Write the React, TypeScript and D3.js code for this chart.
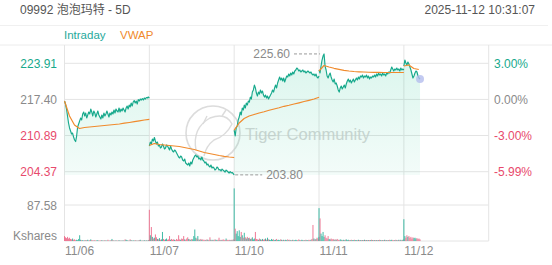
import React from "react";
import * as d3 from "d3";

const title = "09992 泡泡玛特 - 5D";
const timestamp = "2025-11-12  10:31:07";
const dayLabels = ["11/06", "11/07", "11/10", "11/11", "11/12"];
const priceTicks = [223.91, 217.4, 210.89, 204.37];
const priceTickLabels = ["223.91", "217.40", "210.89", "204.37"];
const pctTickLabels = ["3.00%", "0.00%", "-3.00%", "-5.99%"];
const volTick = 87.58;
const volTickLabel = "87.58";
const highValue = 225.6;
const lowValue = 203.8;

const day1Price = [217.11,216.57,215.67,214.41,213.15,212.25,211.70,211.16,211.34,210.62,
210.08,209.81,210.80,212.43,212.97,213.51,214.05,213.69,214.77,215.13,
214.41,214.95,214.05,214.59,215.13,214.77,215.67,215.13,214.41,215.31,
214.95,214.23,214.77,215.31,214.59,214.23,213.87,214.59,214.05,214.95,
214.41,214.77,215.31,214.77,214.23,214.95,214.59,215.13,214.77,215.49,
214.95,215.67,215.31,215.13,215.85,215.13,215.67,215.31,215.85,215.49,
215.13,215.85,216.21,215.67,216.39,216.03,216.75,216.21,216.93,217.20,
216.75,217.11,216.57,217.38,217.11,217.47,217.29,217.56,217.29,217.65,
217.47,217.74,217.65,217.83,217.65];
const day2Price = [209.00,209.72,209.36,210.26,209.90,210.53,209.90,209.36,209.72,209.00,
209.18,208.64,208.82,209.36,209.00,208.46,208.64,209.18,209.00,208.64,
208.28,209.00,208.46,208.10,207.92,208.28,208.10,207.74,207.38,207.02,
206.84,207.20,207.02,206.48,206.30,206.66,205.94,205.76,205.58,205.94,
205.40,206.12,205.76,206.48,206.84,207.20,207.38,207.02,207.20,206.66,
206.84,206.48,207.02,206.48,206.30,205.94,206.12,205.58,205.76,205.40,
205.22,205.58,205.04,205.22,205.04,204.67,204.85,205.22,205.04,204.67,
204.76,204.49,204.85,204.67,204.49,204.31,204.67,204.49,204.31,204.13,
204.40,204.13,204.22,204.04,203.80];
const day3Price = [211.88,210.80,212.25,212.61,213.69,214.23,215.13,214.59,215.85,215.49,
216.39,215.85,216.75,216.39,217.11,216.93,217.83,217.47,218.73,219.10,
220.00,219.46,218.55,218.01,218.73,218.37,219.10,218.55,218.92,218.19,
217.83,218.19,217.65,218.01,217.47,217.83,218.19,218.55,219.10,218.73,
219.46,220.00,219.46,220.36,220.90,221.44,220.90,221.26,220.72,221.26,
220.54,221.08,221.62,221.44,221.98,221.62,222.16,221.80,222.34,221.98,
222.52,222.70,223.06,222.88,222.52,222.70,222.34,222.52,222.70,222.34,
222.52,222.16,222.34,222.52,222.34,222.16,222.34,221.98,221.80,221.98,
221.62,221.98,221.44,221.26,221.62];
const day4Price = [222.70,222.16,223.42,224.50,225.22,225.60,223.42,222.70,221.62,221.26,
221.80,222.16,221.44,220.90,220.54,221.08,220.18,220.36,219.82,219.10,
218.73,219.46,219.82,219.28,219.64,220.00,219.46,220.18,220.72,221.08,
220.54,220.90,220.36,220.72,221.08,220.54,220.90,221.26,220.90,221.44,
221.08,221.62,221.44,221.80,221.26,221.62,221.44,221.80,221.26,221.62,
221.08,221.44,221.26,221.62,221.44,221.80,221.44,221.98,221.62,222.16,
221.80,221.98,221.62,222.16,221.80,221.98,221.62,222.16,221.98,222.34,
222.16,222.70,223.24,222.88,222.52,222.88,222.70,223.06,222.70,222.88,
222.52,223.06,222.70,222.88,222.70];
const day5Price = [223.42,224.50,223.96,223.60,224.14,223.78,223.24,222.70,221.98,221.26,221.62,222.16,222.52,222.34,221.62,221.26,221.08];

const day1Vwap = [217.11,214.41,212.79,212.16,212.34,212.43,212.52,212.61,212.70,212.79,212.88,212.97,213.11,213.24,213.38,213.54,213.69,213.81];
const day2Vwap = [209.09,209.45,209.27,209.18,209.09,209.00,208.91,208.73,208.55,208.37,208.10,207.83,207.65,207.47,207.29,207.14,207.02,206.93];
const day3Vwap = [211.88,213.15,213.96,214.41,214.68,214.95,215.18,215.44,215.67,215.90,216.16,216.35,216.57,216.79,217.02,217.24,217.47,217.78];
const day4Vwap = [222.52,223.51,223.24,223.01,222.83,222.65,222.52,222.43,222.38,222.34,222.30,222.29,222.27,222.25,222.25,222.25,222.25,222.25];
const day5Vwap = [223.42,223.60,222.97,222.79];

const day1Vol = [12,9,7,10,6,8,5,4,6,3,4,2,3,2,5,14,3,2,2,1,2,1.5,2,3,1,2,4,2,1.5,1,2,1,1.5,2,1,1,1.5,2,1,1,2,1,1,3,1,1,2,5,2,1,1,1.5,1,1,2,1,1,1,1.5,1,4,3,2,1,1,4,2,1,1.5,1,2,1,1,1,2,3,1,1,1,2,1,1.5,1,2,3];
const day2Vol = [76,14,34,10,6,8,16,9,5,4,7,3,4,22,5,3,4,6,3,4,12,3,5,3,4,3,2,5,3,14,4,3,6,5,12,4,3,6,9,5,4,3,5,4,12,28,8,6,12,4,3,5,3,4,2,3,2,4,3,2,9,3,2,3,2,4,3,2,3,8,2,3,2,4,3,2,6,3,2,3,2,3,2,4,3];
const day3Vol = [128,30,18,24,12,26,10,22,14,8,20,9,6,10,7,8,5,6,9,4,6,22,5,4,3,6,4,3,5,3,4,6,3,8,4,3,2,5,3,4,2,3,5,2,3,2,4,3,2,3,2,3,2,4,2,3,2,2,3,2,2,3,2,2,4,2,2,3,2,2,2,3,2,2,3,2,3,5,39,6,4,5,8,6,10];
const day4Vol = [80,55,18,12,22,10,14,8,6,12,5,4,6,4,5,3,4,3,5,3,2,4,3,2,3,2,3,4,2,3,2,2,3,2,2,3,2,2,2,3,2,2,2,2,2,3,2,2,2,2,2,2,3,2,2,2,2,2,2,2,3,2,2,2,2,3,2,2,2,2,3,2,3,2,2,2,3,2,2,3,2,3,2,3,4];
const day5Vol = [53,12,8,14,10,12,8,10,6,9,7,8,6,7,5,6,4];

const prices = [day1Price, day2Price, day3Price, day4Price, day5Price];
const vwaps = [day1Vwap, day2Vwap, day3Vwap, day4Vwap, day5Vwap];
const volumes = [day1Vol, day2Vol, day3Vol, day4Vol, day5Vol];

const PTS = 85; // price samples per full session
const VPTS = 18; // vwap samples per full session

const W = 552, H = 265;
const FONT = "'Liberation Sans', Arial, 'Noto Sans CJK SC', sans-serif";
const TEAL = "#17a98c";
const ORANGE = "#f08a2c";
const RED = "#e84a6c";
const GRAY = "#8a8a8a";
const GRID = "#e4e4e4";

const x = d3.scaleLinear().domain([0, 5]).range([64.5, 488.7]);
const y = d3.scaleLinear().domain([204.37, 223.91]).range([171.7, 63.3]);
const yv = d3.scaleLinear().domain([0, volTick]).range([241, 205]);
const PLOT_TOP = 45;
const PLOT_BOTTOM = 241;
const PRICE_BOTTOM = 175;

export default function App() {
  const line = d3.line<[number, number]>().x(d => d[0]).y(d => d[1]);
  const area = d3.area<[number, number]>().x(d => d[0]).y0(PRICE_BOTTOM).y1(d => d[1]);

  const pricePts = prices.map((arr, d) => arr.map((p, i) => [x(d + i / (PTS - 1)), y(p)] as [number, number]));
  const vwapPts = vwaps.map((arr, d) => arr.map((p, i) => [x(d + i / (VPTS - 1)), y(p)] as [number, number]));

  const bars: { x: number; h: number; c: string }[] = [];
  volumes.forEach((arr, d) => {
    arr.forEach((v, i) => {
      const p = prices[d][i];
      let prev: number;
      if (i > 0) prev = prices[d][i - 1];
      else if (d > 0) prev = prices[d - 1][prices[d - 1].length - 1];
      else prev = priceTicks[1];
      const c = p > prev ? "#2bb49c" : p < prev ? "#ec6a8a" : "#9aa5a5";
      bars.push({ x: x(d + i / (PTS - 1)), h: yv(0) - yv(v), c });
    });
  });

  const last = pricePts[4][pricePts[4].length - 1];
  const hiX = x(3 + 5 / (PTS - 1));
  const loX = x(1 + 84 / (PTS - 1));
  const pctColors = [TEAL, GRAY, RED, RED];

  return (
    <svg width={W} height={H} style={{ position: "absolute", left: 0, top: 0, background: "#fff" }} fontFamily={FONT}>
      <defs>
        <linearGradient id="fillg" gradientUnits="userSpaceOnUse" x1="0" y1={PLOT_TOP} x2="0" y2={PRICE_BOTTOM}>
          <stop offset="0" stopColor="#10c088" stopOpacity="0.16" />
          <stop offset="1" stopColor="#10c088" stopOpacity="0.05" />
        </linearGradient>
      </defs>
      <text x={20} y={14} fontSize={12} fill="#555">{title}</text>
      <text x={535} y={14} fontSize={12} fill="#555" textAnchor="end">{timestamp}</text>
      <line x1={0} x2={548} y1={25.5} y2={25.5} stroke="#f0f0f0" />
      <text x={64} y={38.5} fontSize={11.5} fill="#1fa99b">Intraday</text>
      <text x={120} y={38.5} fontSize={11.5} fill={ORANGE}>VWAP</text>
      <line x1={0} x2={552} y1={PLOT_TOP} y2={PLOT_TOP} stroke="#ececec" />

      {priceTicks.map((t, k) => (
        <line key={"pg" + k} x1={x(0)} x2={x(5)} y1={y(t)} y2={y(t)} stroke={GRID} />
      ))}
      <line x1={x(0)} x2={x(5)} y1={yv(volTick)} y2={yv(volTick)} stroke={GRID} />
      <line x1={x(0)} x2={x(5)} y1={yv(0)} y2={yv(0)} stroke={GRID} />
      {[0, 1, 2, 3, 4, 5].map(d => (
        <line key={"vg" + d} x1={x(d)} x2={x(d)} y1={PLOT_TOP} y2={PLOT_BOTTOM} stroke={GRID} />
      ))}

      {/* watermark */}
      <g opacity={0.85}>
        <circle cx={213} cy={133} r={27} fill="none" stroke="#d6d6d6" strokeWidth={1.6} />
        <path d="M196,150 Q192,128 210,118 Q226,112 232,124 Q226,136 214,140 Q206,146 204,156" fill="none" stroke="#d6d6d6" strokeWidth={1.4} />
        <path d="M203,124 L207,116 M222,116 L226,110" stroke="#d6d6d6" strokeWidth={1.4} />
        <text x={245} y={139.5} fontSize={16.5} fill="#d0d0d0">Tiger Community</text>
      </g>

      {pricePts.map((pts, d) => (
        <path key={"a" + d} d={area(pts) || ""} fill="url(#fillg)" />
      ))}

      {bars.map((b, k) => (
        <rect key={"b" + k} x={b.x - 0.5} width={1} y={yv(0) - b.h} height={b.h} fill={b.c} opacity={0.9} />
      ))}

      {pricePts.map((pts, d) => (
        <path key={"p" + d} d={line(pts) || ""} fill="none" stroke={TEAL} strokeWidth={1.15} strokeLinejoin="round" />
      ))}
      {vwapPts.map((pts, d) => (
        <path key={"v" + d} d={line(pts) || ""} fill="none" stroke={ORANGE} strokeWidth={1.2} strokeLinejoin="round" />
      ))}

      <circle cx={last[0]} cy={last[1]} r={4} fill="#b4bdee" opacity={0.8} />

      {/* high / low markers */}
      <line x1={294} x2={hiX - 4} y1={y(highValue)} y2={y(highValue)} stroke="#999" strokeDasharray="3,2" />
      <text x={290} y={y(highValue) + 1} fontSize={12} fill={GRAY} textAnchor="end" dominantBaseline="middle">{highValue.toFixed(2)}</text>
      <line x1={loX + 1} x2={loX + 28} y1={y(lowValue)} y2={y(lowValue)} stroke="#999" strokeDasharray="3,2" />
      <text x={loX + 32} y={y(lowValue) + 1} fontSize={12} fill={GRAY} dominantBaseline="middle">{lowValue.toFixed(2)}</text>

      {priceTicks.map((t, k) => (
        <text key={"pl" + k} x={57} y={y(t) + 1.5} fontSize={12} textAnchor="end" dominantBaseline="middle"
          fill={pctColors[k]}>{priceTickLabels[k]}</text>
      ))}
      {priceTicks.map((t, k) => (
        <text key={"pr" + k} x={494} y={y(t) + 1.5} fontSize={12} dominantBaseline="middle"
          fill={pctColors[k]}>{pctTickLabels[k]}</text>
      ))}
      <text x={57} y={yv(volTick) + 1.5} fontSize={12} textAnchor="end" dominantBaseline="middle" fill={GRAY}>{volTickLabel}</text>
      <text x={57} y={237} fontSize={12} textAnchor="end" dominantBaseline="middle" fill={GRAY}>Kshares</text>
      {dayLabels.map((l, d) => (
        <text key={"dl" + d} x={x(d) + 0.5} y={252} fontSize={12} dominantBaseline="middle" fill={GRAY}>{l}</text>
      ))}
    </svg>
  );
}
